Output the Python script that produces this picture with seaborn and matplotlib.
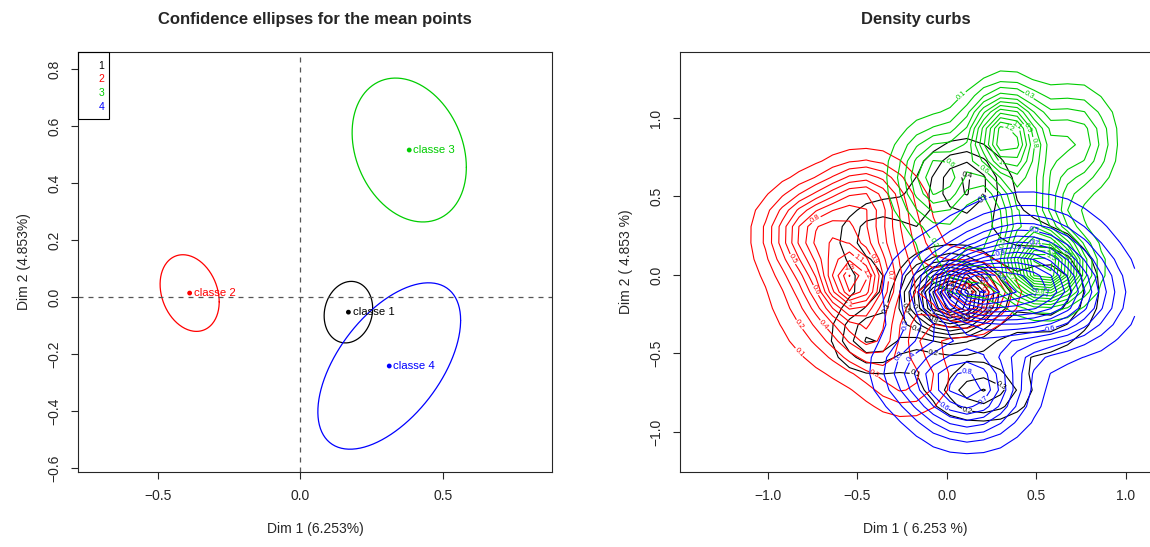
import numpy as np
import pandas as pd
import matplotlib
matplotlib.use("Agg")
import matplotlib.pyplot as plt
import seaborn as sns
from matplotlib.patches import Rectangle

# ---------------- data: left panel (means and confidence ellipses) ----------------
classes = ["classe 1", "classe 2", "classe 3", "classe 4"]
legend_labels = ["1", "2", "3", "4"]
class_colors = ["#000000", "#FF0000", "#00CD00", "#0000FF"]
mean_x = [0.168, -0.388, 0.381, 0.311]
mean_y = [-0.053, 0.014, 0.516, -0.242]
ell_half_x = [0.085, 0.1035, 0.200, 0.250]
ell_half_y = [0.108, 0.1345, 0.2525, 0.292]
ell_rho = [0.12, -0.23, -0.24, 0.55]

# ---------------- data: right panel (density surface components) --
black_cx = [0.02, 0.05, 0.10, -0.40, -0.43, 0.20, 0.60]
black_cy = [-0.15, -0.05, 0.60, 0.25, -0.40, -0.75, -0.10]
black_sx = [0.15, 0.35, 0.13, 0.12, 0.12, 0.15, 0.15]
black_sy = [0.13, 0.40, 0.15, 0.12, 0.12, 0.10, 0.20]
black_pk = [1.20, 0.30, 0.35, 0.20, 0.35, 0.35, 0.30]

red_cx = [-0.50, -0.53, -0.75, -0.45, -0.42, 0.12, -0.22]
red_cy = [0.00, -0.05, 0.28, 0.50, -0.42, -0.12, -0.68]
red_sx = [0.24, 0.10, 0.17, 0.15, 0.12, 0.14, 0.15]
red_sy = [0.32, 0.12, 0.17, 0.15, 0.12, 0.12, 0.14]
red_pk = [0.80, 0.60, 0.55, 0.45, 0.30, 0.85, 0.30]

green_cx = [0.33, 0.55, 0.45, 0.72, -0.05, 0.10]
green_cy = [0.88, 0.05, 0.45, 0.85, 0.62, 0.10]
green_sx = [0.13, 0.14, 0.12, 0.13, 0.14, 0.15]
green_sy = [0.18, 0.14, 0.20, 0.20, 0.20, 0.15]
green_pk = [1.30, 1.60, 0.70, 0.50, 0.70, 0.30]

blue_cx = [0.30, 0.12, 0.12, 0.65, -0.20, 0.45]
blue_cy = [-0.10, -0.08, -0.72, -0.15, -0.60, 0.20]
blue_sx = [0.30, 0.12, 0.20, 0.22, 0.15, 0.25]
blue_sy = [0.20, 0.10, 0.20, 0.20, 0.15, 0.20]
blue_pk = [1.10, 0.60, 0.85, 0.40, 0.25, 0.35]

grid_x_range = [-1.20, 1.05]
grid_y_range = [-1.15, 1.35]
grid_n = 25

# ---------------- styling ----------------
sns.set_style("ticks")
plt.rcParams["font.family"] = ["Liberation Sans", "DejaVu Sans"]
plt.rcParams["axes.linewidth"] = 0.8
plt.rcParams["xtick.major.size"] = 5
plt.rcParams["ytick.major.size"] = 5
plt.rcParams["xtick.major.width"] = 0.8
plt.rcParams["ytick.major.width"] = 0.8
plt.rcParams["xtick.direction"] = "out"
plt.rcParams["ytick.direction"] = "out"

W, H = 1150, 547
fig = plt.figure(figsize=(W / 100, H / 100), dpi=100)


def px_axes(l, t, r, b):
    return fig.add_axes([l / W, 1 - b / H, (r - l) / W, (b - t) / H])


# ---------------- left panel ----------------
ax1 = px_axes(78, 52, 552, 472)
t = np.linspace(0, 2 * np.pi, 200)
for i, cl in enumerate(classes):
    ex = mean_x[i] + ell_half_x[i] * np.cos(t)
    ey = mean_y[i] + ell_half_y[i] * (ell_rho[i] * np.cos(t) + np.sqrt(1 - ell_rho[i] ** 2) * np.sin(t))
    sns.lineplot(x=ex, y=ey, sort=False, estimator=None, color=class_colors[i], lw=0.9, ax=ax1)
pts = pd.DataFrame({"x": mean_x, "y": mean_y, "cl": classes})
sns.scatterplot(data=pts, x="x", y="y", hue="cl", palette=class_colors, s=12,
                edgecolor="none", legend=False, ax=ax1, zorder=5)
for i, cl in enumerate(classes):
    ax1.annotate(cl, (mean_x[i], mean_y[i]), xytext=(3, 0), textcoords="offset points",
                 va="center", ha="left", fontsize=8.2, color=class_colors[i])
ax1.axhline(0, color="#555555", lw=0.9, ls=(0, (4, 4)))
ax1.axvline(0, color="#555555", lw=0.9, ls=(0, (4, 4)))
ax1.set_xlim(-0.779, 0.881)
ax1.set_ylim(-0.614, 0.86)
ax1.set_xticks([-0.5, 0.0, 0.5])
ax1.set_yticks([-0.6, -0.4, -0.2, 0.0, 0.2, 0.4, 0.6, 0.8])
ax1.set_xticklabels(["\u22120.5", "0.0", "0.5"], fontsize=10)
ax1.set_yticklabels(["\u22120.6", "\u22120.4", "\u22120.2", "0.0", "0.2", "0.4", "0.6", "0.8"],
                    fontsize=10, rotation=90, va="center")
ax1.tick_params(axis="x", pad=7)
ax1.tick_params(axis="y", pad=7)
ax1.set_xlabel("Dim 1 (6.253%)", fontsize=10, labelpad=14)
ax1.set_ylabel("Dim 2 (4.853%)", fontsize=10, labelpad=12)
ax1.set_title("Confidence ellipses for the mean points", fontsize=12, fontweight="bold", pad=20)
# legend box (text only, coloured)
ax1.add_patch(Rectangle((0, 1), 31 / 474, -67 / 420, transform=ax1.transAxes,
                        fill=False, edgecolor="black", lw=0.8, clip_on=False, zorder=6))
for i, lab in enumerate(legend_labels):
    ax1.text(0.055, 1 - (14 + 13.5 * i) / 420, lab, transform=ax1.transAxes,
             ha="right", va="center", fontsize=7.5, color=class_colors[i])

# ---------------- right panel ----------------
ax2 = px_axes(680, 52, 1151, 472)
gx = np.linspace(grid_x_range[0], grid_x_range[1], grid_n)
gy = np.linspace(grid_y_range[0], grid_y_range[1], grid_n)
GX, GY = np.meshgrid(gx, gy)


def surface(cx, cy, sx, sy, pk):
    z = np.zeros_like(GX)
    for a, b, c, d, p in zip(cx, cy, sx, sy, pk):
        z += p * np.exp(-0.5 * (((GX - a) / c) ** 2 + ((GY - b) / d) ** 2))
    return z


surfaces = [
    surface(black_cx, black_cy, black_sx, black_sy, black_pk),
    surface(red_cx, red_cy, red_sx, red_sy, red_pk),
    surface(green_cx, green_cy, green_sx, green_sy, green_pk),
    surface(blue_cx, blue_cy, blue_sx, blue_sy, blue_pk),
]
for i, z in enumerate(surfaces):
    levels = np.round(np.arange(0.1, z.max(), 0.1), 1)
    cs = ax2.contour(GX, GY, z, levels=levels, colors=class_colors[i], linewidths=0.8)
    ax2.clabel(cs, fmt=lambda v: f"{v:g}", fontsize=5.5, inline=True, inline_spacing=1)

ax2.set_xlim(-1.49, 1.141)
ax2.set_ylim(-1.255, 1.42)
ax2.set_xticks([-1.0, -0.5, 0.0, 0.5, 1.0])
ax2.set_yticks([-1.0, -0.5, 0.0, 0.5, 1.0])
ax2.set_xticklabels(["\u22121.0", "\u22120.5", "0.0", "0.5", "1.0"], fontsize=10)
ax2.set_yticklabels(["\u22121.0", "\u22120.5", "0.0", "0.5", "1.0"], fontsize=10,
                    rotation=90, va="center")
ax2.tick_params(axis="x", pad=7)
ax2.tick_params(axis="y", pad=7)
ax2.spines["right"].set_visible(False)
ax2.set_xlabel("Dim 1 ( 6.253 %)", fontsize=10, labelpad=14)
ax2.set_ylabel("Dim 2 ( 4.853 %)", fontsize=10, labelpad=12)
ax2.set_title("Density curbs", fontsize=12, fontweight="bold", pad=20)

fig.savefig("out.png", dpi=100, facecolor="white")
